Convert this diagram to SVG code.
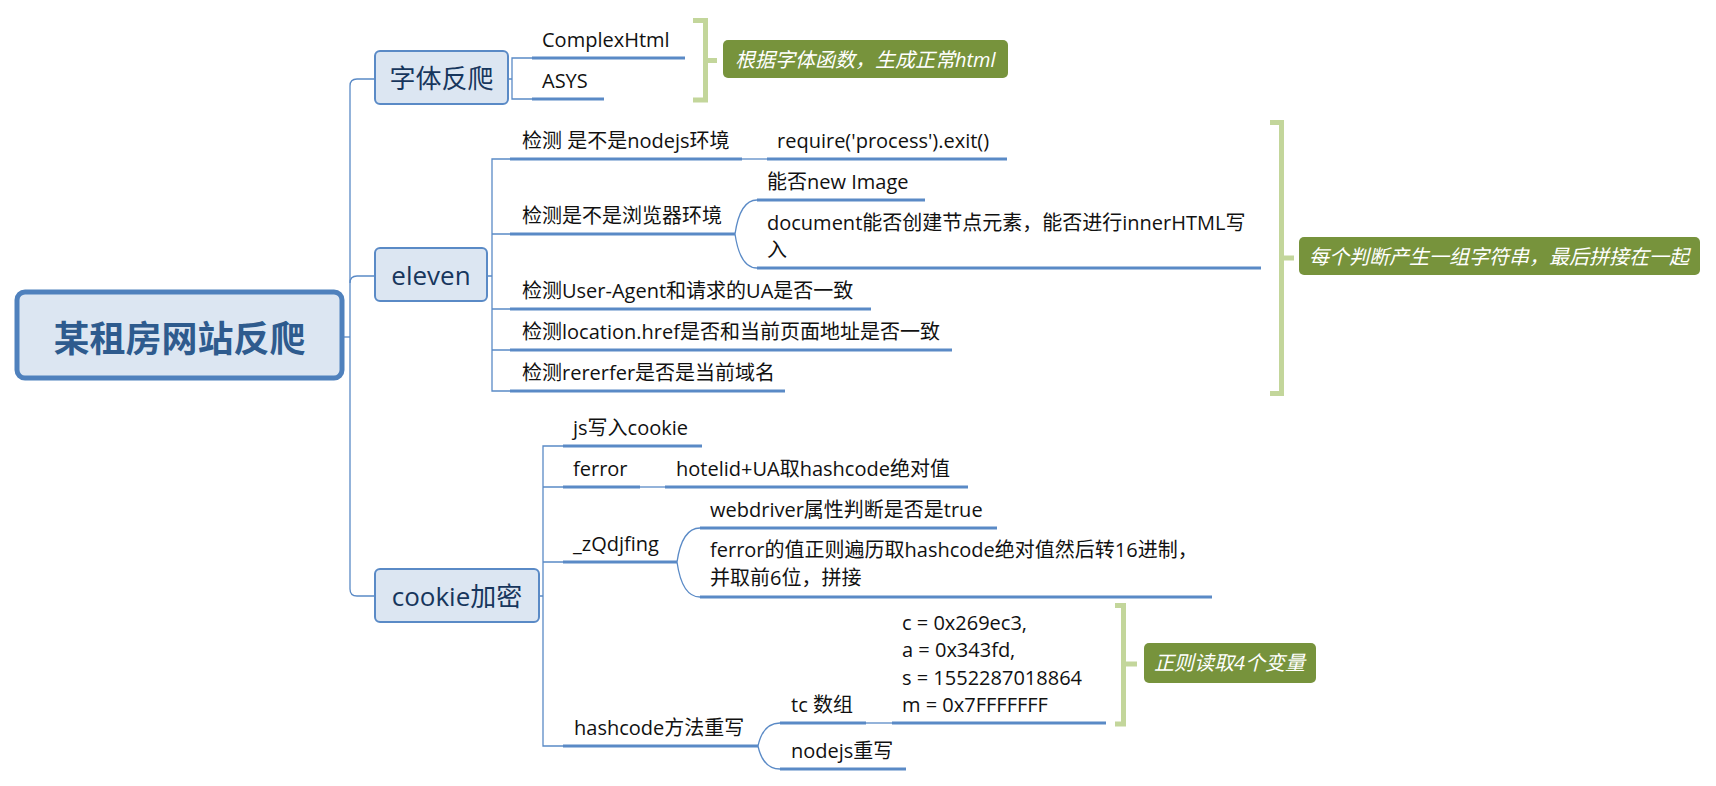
<svg xmlns="http://www.w3.org/2000/svg" width="1716" height="786" viewBox="0 0 1716 786">
<style>
text{font-family:"Open Sans","Noto Sans CJK SC",sans-serif;}
.root{fill:#DCE6F2;stroke:#4F81BD;stroke-width:5;}
.rt{font-size:36px;font-weight:bold;fill:#2E5B8E;text-anchor:middle;}
.box{fill:#DCE6F2;stroke:#5A8AC6;stroke-width:2;}
.bt{font-size:26px;fill:#17365D;text-anchor:middle;}
.ul{stroke:#5A8AC6;stroke-width:3;fill:none;}
.t{font-size:20px;fill:#111;}
.con{stroke:#5A8AC6;stroke-width:1.3;fill:none;}
.br{stroke:#C3D69B;stroke-width:5;fill:none;}
.lb{fill:#77933C;}
.lt{font-size:20px;font-style:italic;fill:#fff;}
</style>
<rect width="1716" height="786" fill="#fff"/>
<g id="connectors">
<path class="con" d="M342,337 H350"/>
<path class="con" d="M375,79 H357 Q350,79 350,86 V589 Q350,596 357,596 H375"/>
<path class="con" d="M350,283 Q350,276 357,276 H375"/>
<path class="con" d="M508,79 H512 M532,58 H512 V99 H532"/>
<path class="con" d="M487,276 H492 M510,159 H492 V391 H510 M492,234 H510 M492,309 H510 M492,350 H510"/>
<path class="con" d="M742,159 H767"/>
<path class="con" d="M735,234 Q740,200 757,200 M735,234 Q740,268 757,268"/>
<path class="con" d="M539,596 H543 M563,446 H543 V746 H563 M543,487 H563 M543,562 H563"/>
<path class="con" d="M640,487 H665"/>
<path class="con" d="M677,562 Q682,528 700,528 M677,562 Q682,597 700,597"/>
<path class="con" d="M758,746 Q763,723 780,723 M758,746 Q763,769 780,769"/>
<path class="con" d="M866,723 H892"/>
</g>
<g id="root">
<rect class="root" x="17" y="292" width="325" height="86" rx="8"/>
<text class="rt" x="179.5" y="352">某租房网站反爬</text>
</g>
<g id="n-font">
<rect class="box" x="375" y="51" width="133" height="53" rx="5"/>
<text class="bt" x="441.5" y="88">字体反爬</text>
</g>
<g id="n-complexhtml"><path class="ul" d="M532,58 H685"/><text class="t" x="542" y="47">ComplexHtml</text></g>
<g id="n-asys"><path class="ul" d="M532,99 H604"/><text class="t" x="542" y="88">ASYS</text></g>
<g id="n-font-note">
<path class="br" d="M693,20.5 H705.5 V100 H693 M705.5,60.5 H717"/>
<rect class="lb" x="723" y="40" width="285" height="38" rx="5"/>
<text class="lt" x="735" y="67">根据字体函数，生成正常html</text>
</g>
<g id="n-eleven">
<rect class="box" x="375" y="248" width="112" height="53" rx="5"/>
<text class="bt" x="431" y="285">eleven</text>
</g>
<g id="n-nodejs"><path class="ul" d="M510,159 H742"/><text class="t" x="522" y="148">检测 是不是nodejs环境</text></g>
<g id="n-require"><path class="ul" d="M767,159 H1007"/><text class="t" x="777" y="148">require('process').exit()</text></g>
<g id="n-browser"><path class="ul" d="M510,234 H735"/><text class="t" x="522" y="223">检测是不是浏览器环境</text></g>
<g id="n-image"><path class="ul" d="M757,200 H925"/><text class="t" x="767" y="189">能否new Image</text></g>
<g id="n-document"><path class="ul" d="M757,268 H1261"/><text class="t" x="767" y="230">document能否创建节点元素，能否进行innerHTML写</text><text class="t" x="767" y="257">入</text></g>
<g id="n-ua"><path class="ul" d="M510,309 H871"/><text class="t" x="522" y="298">检测User-Agent和请求的UA是否一致</text></g>
<g id="n-location"><path class="ul" d="M510,350 H952"/><text class="t" x="522" y="339">检测location.href是否和当前页面地址是否一致</text></g>
<g id="n-referer"><path class="ul" d="M510,391 H785"/><text class="t" x="522" y="380">检测rererfer是否是当前域名</text></g>
<g id="n-eleven-note">
<path class="br" d="M1270,122.5 H1281.5 V393.5 H1270 M1281.5,258 H1294"/>
<rect class="lb" x="1299" y="237" width="401" height="38" rx="5"/>
<text class="lt" x="1309" y="264">每个判断产生一组字符串，最后拼接在一起</text>
</g>
<g id="n-cookie">
<rect class="box" x="375" y="569" width="164" height="53" rx="5"/>
<text class="bt" x="457" y="606">cookie加密</text>
</g>
<g id="n-jscookie"><path class="ul" d="M563,446 H702"/><text class="t" x="573" y="435">js写入cookie</text></g>
<g id="n-ferror"><path class="ul" d="M563,487 H640"/><text class="t" x="573" y="476">ferror</text></g>
<g id="n-hotelid"><path class="ul" d="M665,487 H968"/><text class="t" x="676" y="476">hotelid+UA取hashcode绝对值</text></g>
<g id="n-zq"><path class="ul" d="M563,562 H677"/><text class="t" x="573" y="551">_zQdjfing</text></g>
<g id="n-webdriver"><path class="ul" d="M700,528 H997"/><text class="t" x="710" y="517">webdriver属性判断是否是true</text></g>
<g id="n-ferrorval"><path class="ul" d="M700,597 H1212"/><text class="t" x="710" y="557">ferror的值正则遍历取hashcode绝对值然后转16进制，</text><text class="t" x="710" y="585">并取前6位，拼接</text></g>
<g id="n-hashcode"><path class="ul" d="M563,746 H758"/><text class="t" x="574" y="735">hashcode方法重写</text></g>
<g id="n-tc"><path class="ul" d="M780,723 H866"/><text class="t" x="791" y="712">tc 数组</text></g>
<g id="n-vars"><path class="ul" d="M892,723 H1106"/>
<text class="t" x="902" y="630">c = 0x269ec3,</text>
<text class="t" x="902" y="657">a = 0x343fd,</text>
<text class="t" x="902" y="685">s = 1552287018864</text>
<text class="t" x="902" y="712">m = 0x7FFFFFFF</text>
</g>
<g id="n-vars-note">
<path class="br" d="M1115,605.5 H1123.5 V724 H1115 M1123.5,664 H1137"/>
<rect class="lb" x="1144" y="643" width="172" height="40" rx="5"/>
<text class="lt" x="1154" y="670">正则读取4个变量</text>
</g>
<g id="n-nodejsrw"><path class="ul" d="M780,769 H906"/><text class="t" x="791" y="758">nodejs重写</text></g>
</svg>
